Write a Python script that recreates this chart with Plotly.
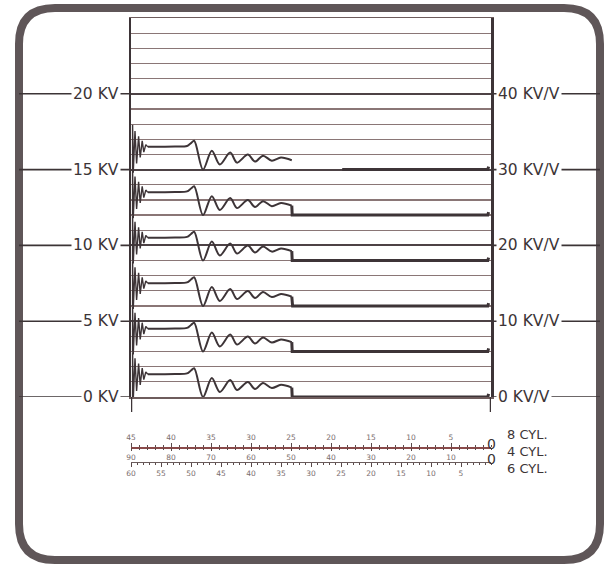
import plotly.graph_objects as go

# ---------------- data ----------------
KV_TICKS = [0, 5, 10, 15, 20]
KV_TICK_TEXT = ["0 KV", "5 KV", "10 KV", "15 KV", "20 KV"]
KVV_TICKS = [0, 10, 20, 30, 40]
KVV_TICK_TEXT = ["0 KV/V", "10 KV/V", "20 KV/V", "30 KV/V", "40 KV/V"]

# six stacked ignition waveforms (baseline of each trace, in KV)
TRACE_BASELINE_KV = [15, 12, 9, 6, 3, 0]
TAIL_START_DEG = [18.6, 24.85, 24.85, 24.8, 24.85, 24.85]
STEP_DRAWN = [False, True, True, True, True, True]

# firing spike + ringing (degrees on 8-cyl scale, KV above baseline)
RING_DEG = [44.8, 44.8, 44.72, 44.5, 44.3, 44.05, 43.85, 43.6, 43.4, 43.15, 42.9]
RING_KV = [0.0, 2.95, -0.2, 2.55, 0.4, 2.2, 0.8, 1.9, 1.15, 1.65, 1.5]

# spark line, coil oscillations
WAVE_DEG = [42.9, 39.5, 38.0, 37.5, 37.1, 36.0, 34.9, 33.9, 32.6, 31.75, 30.4, 29.5, 28.5, 27.4, 26.25, 24.9]
WAVE_KV = [1.5, 1.52, 1.56, 1.75, 1.9, 0.0, 1.25, 0.33, 1.12, 0.46, 0.99, 0.53, 0.92, 0.59, 0.8, 0.62]

TAIL_END_DEG = [0.4, 0.3]
TAIL_END_KV = [0.0, 0.2]

CYL8_TICKS = [45, 40, 35, 30, 25, 20, 15, 10, 5]
CYL4_TICKS = [90, 80, 70, 60, 50, 40, 30, 20, 10]
CYL6_TICKS = [60, 55, 50, 45, 40, 35, 30, 25, 20, 15, 10, 5]
CYL_LABELS = ["8 CYL.", "4 CYL.", "6 CYL."]

# ---------------- figure geometry helpers ----------------
W, H = 610, 567
ML, MR, MT, MB = 131, 119, 18, 87
PW = W - ML - MR
PH = H - MT - MB


def xp(px):
    return (px - ML) / PW


def yp(py):
    return (H - MB - py) / PH


INK = "#3d3437"
LABEL = "#3c3436"
FONT = "DejaVu Sans"

fig = go.Figure()

for i, base in enumerate(TRACE_BASELINE_KV):
    fig.add_trace(go.Scatter(
        x=RING_DEG, y=[base + v for v in RING_KV], mode="lines",
        line=dict(color=INK, width=1.4), hoverinfo="skip"))
    fig.add_trace(go.Scatter(
        x=WAVE_DEG, y=[base + v for v in WAVE_KV], mode="lines",
        line=dict(color=INK, width=2, shape="spline", smoothing=0.9),
        hoverinfo="skip"))
    if STEP_DRAWN[i]:
        tx = [WAVE_DEG[-1], TAIL_START_DEG[i]] + TAIL_END_DEG
        ty = [base + WAVE_KV[-1], base] + [base + v for v in TAIL_END_KV]
    else:
        tx = [TAIL_START_DEG[i]] + TAIL_END_DEG
        ty = [base] + [base + v for v in TAIL_END_KV]
    fig.add_trace(go.Scatter(
        x=tx, y=ty, mode="lines", line=dict(color=INK, width=3),
        hoverinfo="skip"))

# dummy traces so the extra scales exist
for xa, ya in [("x2", "y"), ("x3", "y"), ("x4", "y"), ("x", "y2")]:
    fig.add_trace(go.Scatter(x=[None], y=[None], xaxis=xa, yaxis=ya,
                             mode="markers", hoverinfo="skip"))

shapes = []
# outer rounded frame
x0, x1 = xp(19), xp(600)
yt, yb = yp(8), yp(560)
rx, ry = 36 / PW, 36 / PH
path = (f"M {x0+rx},{yt} L {x1-rx},{yt} Q {x1},{yt} {x1},{yt-ry} "
        f"L {x1},{yb+ry} Q {x1},{yb} {x1-rx},{yb} L {x0+rx},{yb} "
        f"Q {x0},{yb} {x0},{yb+ry} L {x0},{yt-ry} Q {x0},{yt} {x0+rx},{yt} Z")
shapes.append(dict(type="path", path=path, xref="paper", yref="paper",
                   line=dict(color="#5f5658", width=8), layer="below"))
# connector lines for the tick labels
for v in KV_TICKS:
    shapes.append(dict(type="line", xref="paper", yref="y", x0=xp(19), x1=0,
                       y0=v, y1=v, line=dict(color=LABEL, width=1.6)))
for v in KVV_TICKS:
    shapes.append(dict(type="line", xref="paper", yref="y2", x0=1, x1=xp(600),
                       y0=v, y1=v, line=dict(color=LABEL, width=1.6)))
# box side lines running down past the 0 KV line
for xv in [45, 0]:
    shapes.append(dict(type="line", xref="x", yref="paper", x0=xv, x1=xv,
                       y0=yp(412), y1=yp(397), line=dict(color=INK, width=2.5)))

annotations = []
for v, t in zip(KV_TICKS, KV_TICK_TEXT):
    annotations.append(dict(x=xp(121), xref="paper", y=v, yref="y", text=t,
                            showarrow=False, xanchor="right", yanchor="middle",
                            bgcolor="white", borderpad=1,
                            font=dict(family=FONT, size=15.5, color=LABEL)))
for v, t in zip(KVV_TICKS, KVV_TICK_TEXT):
    annotations.append(dict(x=xp(496), xref="paper", y=v, yref="y2", text=t,
                            showarrow=False, xanchor="left", yanchor="middle",
                            bgcolor="white", borderpad=1,
                            font=dict(family=FONT, size=15.5, color=LABEL)))
for t, py in zip(CYL_LABELS, [434, 451, 468]):
    annotations.append(dict(x=xp(505), xref="paper", y=yp(py), yref="paper",
                            text=t, showarrow=False, xanchor="left",
                            yanchor="middle",
                            font=dict(family=FONT, size=13, color=LABEL)))
for xa, py in [("x2", 444), ("x4", 459)]:
    annotations.append(dict(x=0, xref=xa, y=yp(py), yref="paper", text="0",
                            showarrow=False, xanchor="center", yanchor="middle",
                            font=dict(family=FONT, size=14, color=LABEL)))

small = dict(family=FONT, size=7.5, color="#7a6e6e")

fig.update_layout(
    width=W, height=H,
    margin=dict(l=ML, r=MR, t=MT, b=MB, pad=0),
    paper_bgcolor="white", plot_bgcolor="white",
    showlegend=False,
    shapes=shapes, annotations=annotations,
    xaxis=dict(range=[45, 0], showline=True, mirror=True,
               linecolor="#6e5c5c", linewidth=1.5, showgrid=False,
               zeroline=False, showticklabels=False, ticks=""),
    yaxis=dict(range=[0, 25], domain=[yp(397), 1], showline=True, mirror=True,
               linecolor=INK, linewidth=2.5, showgrid=True,
               gridcolor="#4d4245", gridwidth=2, tickmode="linear", tick0=0,
               dtick=5, showticklabels=False, ticks="", zeroline=False,
               minor=dict(dtick=1, tick0=0, showgrid=True,
                          gridcolor="#8a7676", gridwidth=1.2)),
    yaxis2=dict(range=[0, 50], overlaying="y", side="right", showgrid=False,
                showticklabels=False, showline=False, zeroline=False,
                ticks=""),
    xaxis2=dict(range=[45, 0], overlaying="x", anchor="free",
                position=yp(447), side="top", showline=True,
                linecolor="#8a4a4a", linewidth=1.5, ticks="outside",
                ticklen=4, tickwidth=1, tickcolor="#5a4a4a",
                tickmode="array", tickvals=CYL8_TICKS,
                ticktext=[str(v) for v in CYL8_TICKS], tickfont=small,
                minor=dict(ticks="outside", tickmode="linear", tick0=0,
                           dtick=1, ticklen=2, tickcolor="#5a4a4a"),
                showgrid=False, zeroline=False),
    xaxis3=dict(range=[90, 0], overlaying="x", anchor="free",
                position=yp(447), side="bottom", showline=False,
                ticks="outside", ticklen=3, tickwidth=1, tickcolor="#5a4a4a",
                tickmode="array", tickvals=CYL4_TICKS,
                ticktext=[str(v) for v in CYL4_TICKS], tickfont=small,
                minor=dict(ticks="outside", tickmode="linear", tick0=0,
                           dtick=2, ticklen=2, tickcolor="#5a4a4a"),
                showgrid=False, zeroline=False),
    xaxis4=dict(range=[60, 0], overlaying="x", anchor="free",
                position=yp(462), side="bottom", showline=True,
                linecolor="#6a5c5c", linewidth=1, ticks="outside",
                ticklen=4, tickwidth=1, tickcolor="#5a4a4a",
                tickmode="array", tickvals=CYL6_TICKS,
                ticktext=[str(v) for v in CYL6_TICKS], tickfont=small,
                minor=dict(ticks="outside", tickmode="linear", tick0=0,
                           dtick=1, ticklen=2, tickcolor="#5a4a4a"),
                showgrid=False, zeroline=False),
)

fig.write_html("out.html",
               config={"displayModeBar": False, "staticPlot": True},
               post_script="document.body.style.margin='0';"
                           "document.body.style.overflow='hidden';")
